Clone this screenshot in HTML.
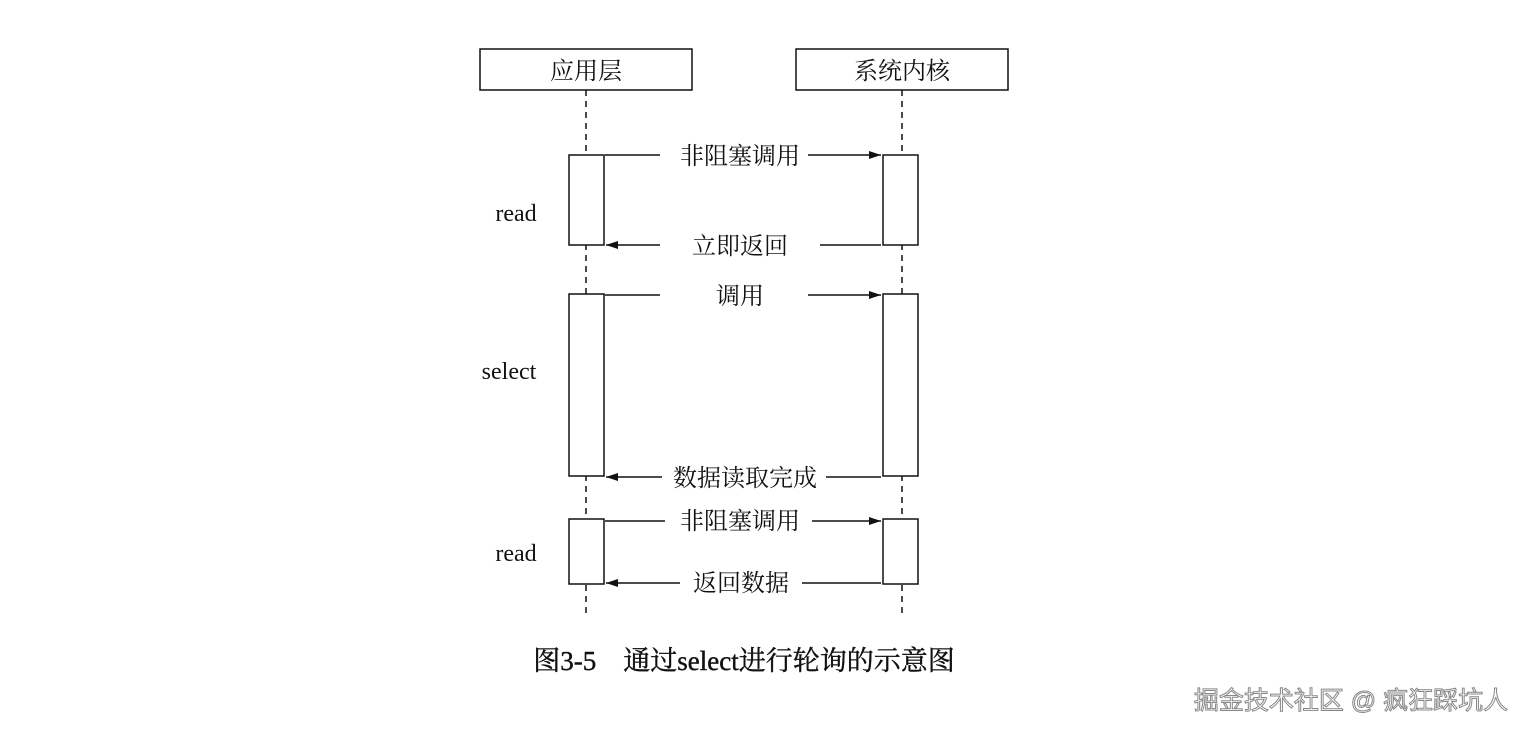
<!DOCTYPE html>
<html><head><meta charset="utf-8"><style>
body{margin:0;background:#fff;width:1528px;height:736px;overflow:hidden}
</style></head><body>
<svg width="1528" height="736" xmlns="http://www.w3.org/2000/svg" style="position:absolute;left:0;top:0">
<defs><marker id="a" markerWidth="12" markerHeight="8" refX="12" refY="4" orient="auto" markerUnits="userSpaceOnUse"><path d="M0,0 L12,4 L0,8 z" fill="#111"/></marker></defs>
<g stroke="#111" stroke-width="1.5" fill="#fff">
<line x1="586" y1="90" x2="586" y2="618" stroke-dasharray="6,5"/>
<line x1="902" y1="90" x2="902" y2="618" stroke-dasharray="6,5"/>
<rect x="480" y="49" width="212" height="41"/>
<rect x="796" y="49" width="212" height="41"/>
<rect x="569" y="155" width="35" height="90"/>
<rect x="883" y="155" width="35" height="90"/>
<rect x="569" y="294" width="35" height="182"/>
<rect x="883" y="294" width="35" height="182"/>
<rect x="569" y="519" width="35" height="65"/>
<rect x="883" y="519" width="35" height="65"/>
<line x1="605" y1="155" x2="660" y2="155"/><line x1="808" y1="155" x2="881" y2="155" marker-end="url(#a)"/>
<line x1="881" y1="245" x2="820" y2="245"/><line x1="660" y1="245" x2="606" y2="245" marker-end="url(#a)"/>
<line x1="605" y1="295" x2="660" y2="295"/><line x1="808" y1="295" x2="881" y2="295" marker-end="url(#a)"/>
<line x1="881" y1="477" x2="826" y2="477"/><line x1="662" y1="477" x2="606" y2="477" marker-end="url(#a)"/>
<line x1="605" y1="521" x2="665" y2="521"/><line x1="812" y1="521" x2="881" y2="521" marker-end="url(#a)"/>
<line x1="881" y1="583" x2="802" y2="583"/><line x1="680" y1="583" x2="606" y2="583" marker-end="url(#a)"/>
</g>
<g font-family="'Liberation Serif','Noto Serif CJK SC',serif" font-size="24" fill="#111" text-anchor="middle">
<text x="586" y="79">应用层</text>
<text x="902" y="79">系统内核</text>
<text x="740" y="164">非阻塞调用</text>
<text x="740" y="254">立即返回</text>
<text x="740" y="304">调用</text>
<text x="745" y="486">数据读取完成</text>
<text x="740" y="529">非阻塞调用</text>
<text x="741" y="591">返回数据</text>
<text x="516" y="221">read</text>
<text x="509" y="379">select</text>
<text x="516" y="561">read</text>
<text x="744" y="670" font-size="27" stroke="#111" stroke-width="0.4">图3-5　通过select进行轮询的示意图</text>
</g>
<text x="1351" y="709" font-family="'Liberation Sans','Noto Sans CJK SC',sans-serif" font-size="25" fill="#fff" stroke="#888" stroke-width="1" text-anchor="middle">掘金技术社区 @ 疯狂踩坑人</text>
</svg>
</body></html>
